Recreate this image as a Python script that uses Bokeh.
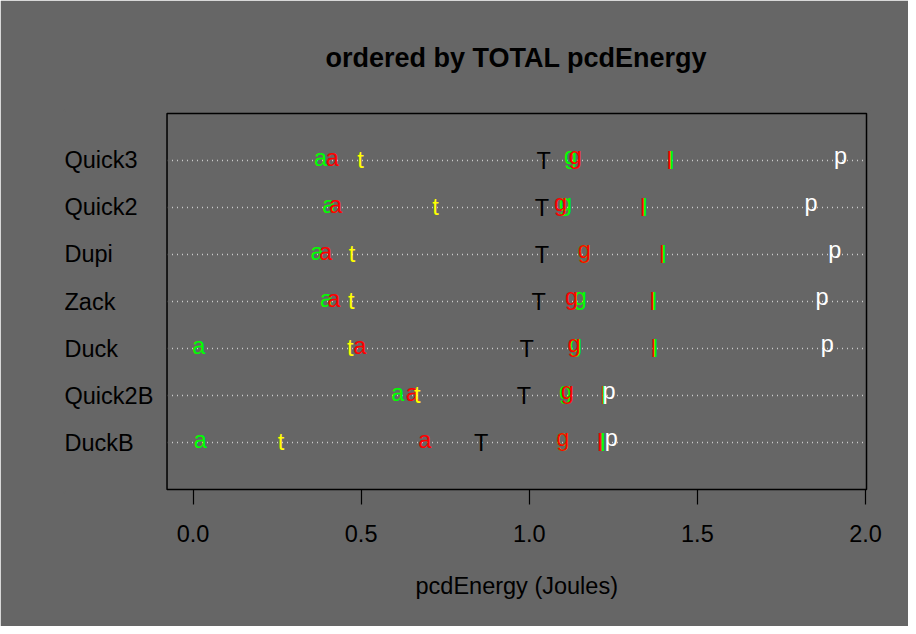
from bokeh.plotting import figure
from bokeh.models import Range1d, FixedTicker, PrintfTickFormatter, ColumnDataSource, Title
from bokeh.core.properties import value
from bokeh.embed import file_html
from bokeh.resources import INLINE

# categories, top to bottom
categories = ["Quick3", "Quick2", "Dupi", "Zack", "Duck", "Quick2B", "DuckB"]

# series values (Joules), same order as categories
a_green = [0.379, 0.404, 0.369, 0.397, 0.017, 0.609, 0.022]
a_red   = [0.414, 0.424, 0.394, 0.419, 0.496, 0.652, 0.689]
t_yel   = [0.498, 0.721, 0.473, 0.471, 0.468, 0.667, 0.262]
T_blk   = [1.043, 1.038, 1.038, 1.028, 0.992, 0.984, 0.857]
g_green = [1.123, 1.108, 1.164, 1.152, 1.138, 1.108, 1.100]
g_red   = [1.137, 1.093, 1.164, 1.126, 1.133, 1.113, 1.100]
l_red   = [1.417, 1.338, 1.395, 1.366, 1.370, 1.220, 1.210]
l_green = [1.423, 1.344, 1.400, 1.372, 1.375, 1.222, 1.219]
p_wht   = [1.926, 1.838, 1.909, 1.871, 1.886, 1.237, 1.244]

x_ticks = [0.0, 0.5, 1.0, 1.5, 2.0]

BG = "#666666"
FONT = "Liberation Sans"
FSN = 23.5
FS = f"{FSN}px"

n = len(categories)
rows = [n - i for i in range(n)]  # Quick3 -> 7 ... DuckB -> 1

# plot-box limits (R "usr" region) and the label column position
box_x0, box_x1 = -0.0773, 2.003
box_y0, box_y1 = 0, n + 1
label_x = -0.3822

p = figure(width=908, height=626, output_backend="svg", toolbar_location=None,
           x_range=Range1d(label_x, 2.0119), y_range=Range1d(-0.0638, n + 1.0638),
           min_border_left=64, min_border_right=39, min_border_top=110,
           min_border_bottom=134,
           title="ordered by TOTAL pcdEnergy")
p.background_fill_color = BG
p.border_fill_color = BG
p.outline_line_color = BG
p.outline_line_width = 2

p.title.align = "left"
p.title.offset = 261
p.title.text_font = FONT
p.title.text_font_size = "27px"
p.title.text_font_style = "bold"
p.title.text_color = "black"
p.title.standoff = 76

p.yaxis.visible = False
p.xgrid.visible = False
p.ygrid.visible = False

xa = p.xaxis[0]
xa.ticker = FixedTicker(ticks=x_ticks)
xa.formatter = PrintfTickFormatter(format="%.1f")
xa.axis_line_color = None
xa.major_tick_line_color = "black"
xa.major_tick_line_width = 1.2
xa.major_tick_out = 12
xa.major_tick_in = 3
xa.minor_tick_out = 0
xa.minor_tick_in = 0
xa.major_label_text_font = FONT
xa.major_label_text_font_size = FS
xa.major_label_text_color = "black"
xa.major_label_standoff = 20

# x-axis title, centred under the plot box
xtitle = Title(text="pcdEnergy (Joules)", align="left", offset=351, standoff=53,
               text_font=FONT, text_font_size=FS, text_font_style="normal",
               text_color="black")
p.add_layout(xtitle, "below")

# dotted row guides across the plot box
p.segment(x0=[box_x0] * n, x1=[box_x1] * n, y0=rows, y1=rows,
          line_color="#CCCCCC", line_dash="1 4", line_width=1.3)

# plot box
p.quad(left=[box_x0], right=[box_x1], bottom=[box_y0], top=[box_y1],
       fill_color=None, line_color="black", line_width=1.5)

# series: (values, letter, colour, glyph centre above baseline in em)
series = [
    (a_green, "a", "#00FF00", 0.26),
    (a_red,   "a", "#FF0000", 0.26),
    (t_yel,   "t", "#FFFF00", 0.33),
    (T_blk,   "T", "#000000", 0.358),
    (g_green, "g", "#00FF00", 0.16),
    (g_red,   "g", "#FF0000", 0.16),
    (l_red,   "l", "#FF0000", 0.365),
    (l_green, "l", "#00FF00", 0.365),
    (p_wht,   "p", "#FFFFFF", 0.16),
]
for vals, ch, col, c in series:
    src = ColumnDataSource(dict(x=vals, y=rows, txt=[ch] * n))
    p.text(x="x", y="y", text="txt", source=src, text_color=col,
           text_font=value(FONT), text_font_size=FS, text_align="center",
           text_baseline="middle", y_offset=(c - 0.35) * FSN)

# category labels, left aligned
lab = ColumnDataSource(dict(x=[label_x] * n, y=rows, txt=categories))
p.text(x="x", y="y", text="txt", source=lab, text_color="black",
       text_font=value(FONT), text_font_size=FS, text_align="left",
       text_baseline="middle")

open("out.html", "w").write(file_html(p, INLINE))
